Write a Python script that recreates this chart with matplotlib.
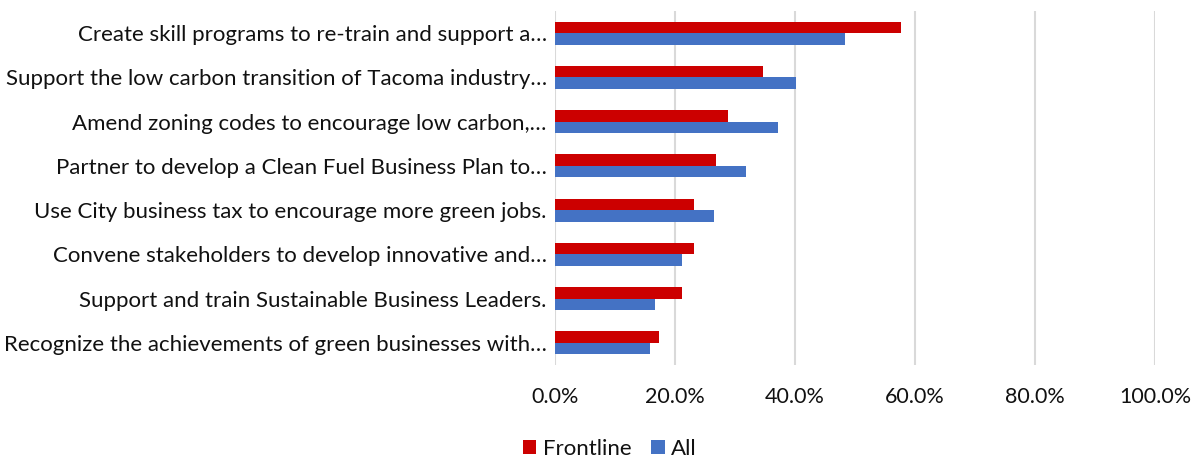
import numpy as np
import matplotlib.pyplot as plt
from matplotlib.ticker import PercentFormatter

categories = [
    "Create skill programs to re-train and support a…",
    "Support the low carbon transition of Tacoma industry…",
    "Amend zoning codes to encourage low carbon,…",
    "Partner to develop a Clean Fuel Business Plan to…",
    "Use City business tax to encourage more green jobs.",
    "Convene stakeholders to develop innovative and…",
    "Support and train Sustainable Business Leaders.",
    "Recognize the achievements of green businesses with…",
]
frontline = [57.7, 34.6, 28.9, 26.9, 23.1, 23.1, 21.2, 17.3]
all_resp = [48.4, 40.2, 37.1, 31.8, 26.5, 21.2, 16.7, 15.9]

plt.rcParams["font.family"] = ["Lato", "DejaVu Sans"]
text_color = "#111111"

fig = plt.figure(figsize=(11.98, 4.59), dpi=100)
ax = fig.add_axes([0.4633, 0.205, 0.5007, 0.771])

y = np.arange(len(categories))
h = 0.26
ax.barh(y - h / 2, frontline, height=h, color="#cc0000", label="Frontline", zorder=3)
ax.barh(y + h / 2, all_resp, height=h, color="#4472c4", label="All", zorder=3)

ax.set_yticks(y)
ax.set_yticklabels(categories, fontsize=16, color=text_color)
ax.set_ylim(len(categories) - 0.5, -0.5)
ax.set_xlim(0, 100)
ax.set_xticks(np.arange(0, 101, 20))
ax.xaxis.set_major_formatter(PercentFormatter(decimals=1))
ax.tick_params(axis="x", labelsize=15.5, labelcolor=text_color, length=0, pad=16)
ax.tick_params(axis="y", length=0, pad=6)
ax.grid(axis="x", color="#d9d9d9", linewidth=1.5, zorder=0)
for s in ax.spines.values():
    s.set_visible(False)

leg = ax.legend(loc="center", bbox_to_anchor=(0.509, 0.022), bbox_transform=fig.transFigure,
                ncol=2, frameon=False, fontsize=16, handlelength=0.6, handleheight=0.6,
                handletextpad=0.3, columnspacing=0.9)
for t in leg.get_texts():
    t.set_color(text_color)

fig.savefig("out.png", dpi=100)
